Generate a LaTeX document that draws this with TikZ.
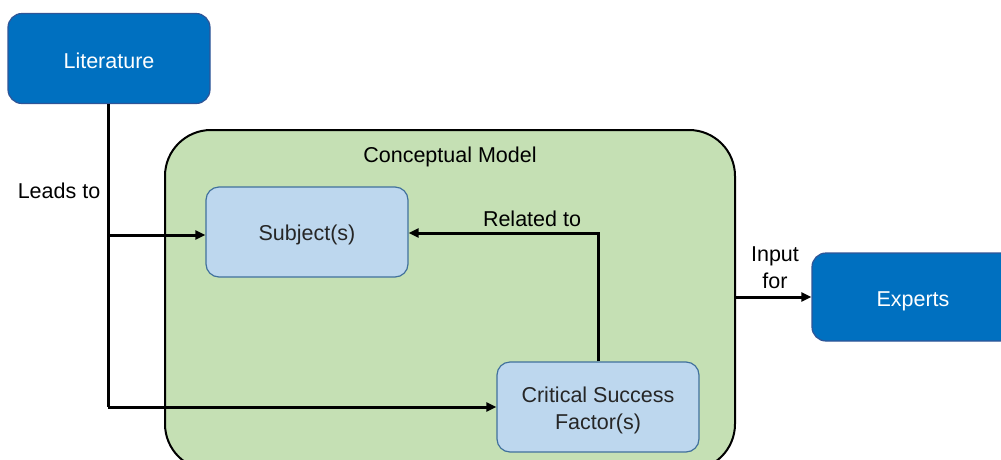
\documentclass[tikz,border=0pt]{standalone}
\usepackage{fontspec}
\setmainfont{Liberation Sans}
\usetikzlibrary{arrows.meta}
\definecolor{darkbox}{HTML}{0070C0}
\definecolor{darkedge}{HTML}{2F5597}
\definecolor{lightbox}{HTML}{BDD7EE}
\definecolor{lightedge}{HTML}{41719C}
\definecolor{greenfill}{HTML}{C5E0B4}
\tikzset{
  darknode/.style={draw=darkedge, line width=1.2pt, fill=darkbox, rounded corners=14pt,
    minimum width=202pt, minimum height=90pt, text=white, font=\fontsize{21.5}{25}\selectfont, align=center, inner sep=0pt,
    text height=20pt, text depth=0.5pt},
  lightnode/.style={draw=lightedge, line width=1.2pt, fill=lightbox, rounded corners=13pt,
    minimum width=202pt, minimum height=90pt, text=black!85, font=\fontsize{21.5}{27}\selectfont, align=center, inner sep=0pt},
  lbl/.style={text=black, font=\fontsize{21.5}{27}\selectfont, align=center, inner sep=0pt},
  conn/.style={line width=3pt, -{Triangle[length=10pt,width=9pt]}},
}
\begin{document}
\begin{tikzpicture}[x=1pt,y=-1pt]
\useasboundingbox (0,0) rectangle (1001,459);
\begin{scope}
\clip (0,0) rectangle (1001,459);
% container
\draw[line width=2pt, fill=greenfill, rounded corners=46pt] (165,130) rectangle (735,470);
\node[lbl] (cm) at (450,157) {Conceptual Model};
\node[darknode] (lit) at (109,58.5) {Literature};
\node[darknode, minimum height=88pt] (exp) at (913,297) {Experts};
\node[lightnode, text height=19pt, text depth=2pt] (subj) at (307,232) {Subject(s)};
\node[lightnode, text height=46pt, text depth=2pt] (csf) at (598,407) {Critical Success\\Factor(s)};
\coordinate (split) at (108,235);
\coordinate (bend) at (108,407);
\coordinate (relc) at (598,233);
\coordinate (cont) at (735,297);
\draw[line width=3pt] (lit.south -| split) -- (bend);
\draw[conn] (split) -- (subj.west |- split);
\draw[conn] (bend) -- (csf.west);
\draw[conn] (csf.north) -- (relc) -- (subj.east |- relc);
\draw[conn] (cont) -- (exp.west);
\node[lbl] (leads) at (59,191) {Leads to};
\node[lbl] (rel) at (532,219) {Related to};
\node[lbl] (inp) at (775,268) {Input\\for};
\end{scope}
\end{tikzpicture}
\end{document}
